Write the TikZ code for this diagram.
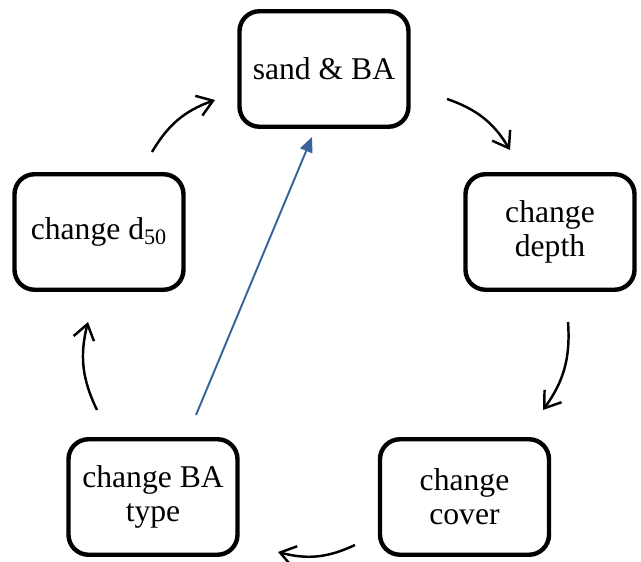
\documentclass[tikz,border=0pt]{standalone}
\usepackage{fontspec}
\setmainfont{Liberation Serif}
\usepackage{tikz}
\usetikzlibrary{arrows.meta}
\definecolor{linkblue}{RGB}{56,99,155}

\begin{document}
\begin{tikzpicture}[
	stepbox/.style={rectangle, rounded corners=0.4cm, draw=black, fill=white, line width=2.5pt, minimum width=3.38cm, minimum height=2.31cm, align=center, font=\fontsize{18}{19.5}\selectfont},
	cyc/.style={-{Straight Barb[length=0.3cm,width=0.42cm,line width=1.4pt]}, line width=1.4pt, bend left=20},
	]
	\useasboundingbox (0,0) rectangle (12.82,11.24);
	%Nodes
	\node[stepbox]      (sand) 	at 	(6.48,9.86)     {sand \& BA};
	\node[stepbox]      (depth) 	at 	(11.00,6.60)    {change\\depth};
	\node[stepbox]      (cover) 	at 	(9.29,1.30)     {change\\cover};
	\node[stepbox]      (batype) 	at 	(3.06,1.30)     {change BA\\type};
	\node[stepbox]      (d50) 	at 	(1.98,6.60)     {change d\textsubscript{50}};
	
	%Arrow ends
	\coordinate (d50out) 	at 	(3.04,8.20);
	\coordinate (sandin) 	at 	(4.30,9.24);
	\coordinate (sandout) 	at 	(8.94,9.26);
	\coordinate (depthin) 	at 	(10.20,8.24);
	\coordinate (depthout) 	at 	(11.36,4.80);
	\coordinate (coverin) 	at 	(10.86,3.04);
	\coordinate (coverout) 	at 	(7.10,0.34);
	\coordinate (batypein) 	at 	(5.56,0.20);
	\coordinate (batypeout) 	at 	(1.94,3.04);
	\coordinate (d50in) 	at 	(1.76,4.80);
	\coordinate (linkstart) 	at 	(3.92,2.94);
	\coordinate (linkend) 	at 	(6.24,8.50);
	
	%Cycle
	\draw[cyc] (d50out) to (sandin);
	\draw[cyc] (sandout) to (depthin);
	\draw[cyc] (depthout) to (coverin);
	\draw[cyc] (coverout) to (batypein);
	\draw[cyc] (batypeout) to (d50in);
	
	\draw[-{Triangle[length=0.3cm,width=0.26cm]}, linkblue, line width=1.1pt] (linkstart) -- (linkend);
\end{tikzpicture}
\end{document}
